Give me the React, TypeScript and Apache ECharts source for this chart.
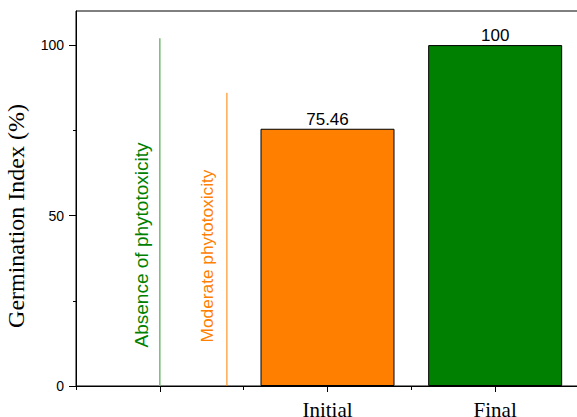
import React, { useEffect, useRef } from "react";
import * as echarts from "echarts";

const categories = ["", "Initial", "Final"];
const giValues: (number | null)[] = [null, 75.46, 100];
const barColors = ["#FF8000", "#FF8000", "#008000"];
const yTickValues = [0, 50, 100];
const yMinorTickValues = [25, 75];
const thresholdLabels = ["Absence of phytotoxicity", "Moderate phytotoxicity"];
const thresholdX = [0, 0.4];
const thresholdTop = [102, 86];
const thresholdLineColors = ["#74bb74", "#FF8000"];
const thresholdTextColors = ["#008000", "#FF8000"];

const SANS = "'Liberation Sans', Arial, sans-serif";
const SERIF = "'Liberation Serif', 'Times New Roman', serif";

export default function App() {
  const ref = useRef<HTMLDivElement>(null);
  useEffect(() => {
    if (!ref.current) return;
    const chart = echarts.init(ref.current, null, { renderer: "svg" });
    const textPos = [
      { x: 141, y: 245, size: 19 },
      { x: 207, y: 256, size: 17.3 },
    ];
    const option: any = {
      animation: false,
      backgroundColor: "#fff",
      grid: {
        left: 76,
        right: -2,
        top: 11,
        bottom: 31,
        show: true,
        borderColor: "#000",
        borderWidth: 1,
        containLabel: false,
        outerBoundsMode: "none",
      },
      xAxis: [
        {
          type: "category",
          data: categories,
          boundaryGap: true,
          axisLine: { show: true, onZero: false, lineStyle: { color: "#000", width: 1 } },
          axisTick: { show: true, alignWithLabel: true, length: 6, lineStyle: { color: "#000" } },
          axisLabel: { color: "#000", fontFamily: SERIF, fontSize: 21, margin: 13 },
          splitLine: { show: false },
        },
        {
          type: "category",
          data: categories,
          position: "bottom",
          boundaryGap: true,
          axisLine: { show: false, onZero: false },
          axisTick: { show: true, length: 4, lineStyle: { color: "#000" } },
          axisLabel: { show: false },
          splitLine: { show: false },
        },
        {
          type: "value",
          min: -0.5,
          max: 2.5,
          show: false,
          axisLine: { onZero: false },
        },
      ],
      yAxis: [
        {
          type: "value",
          position: "left",
          min: 0,
          max: 110,
          interval: 50,
          axisLine: { show: true, onZero: false, lineStyle: { color: "#000", width: 1 } },
          axisTick: { show: true, length: 7, customValues: yTickValues, lineStyle: { color: "#000" } },
          axisLabel: {
            customValues: yTickValues,
            color: "#000",
            fontFamily: SANS,
            fontSize: 14,
            margin: 12,
            formatter: (v: number) => (yTickValues.includes(v) ? String(v) : ""),
          },
          splitLine: { show: false },
        },
        {
          type: "value",
          position: "left",
          min: 0,
          max: 110,
          axisLine: { show: false, onZero: false },
          axisTick: { show: true, length: 3, customValues: yMinorTickValues, lineStyle: { color: "#000" } },
          axisLabel: { show: false },
          splitLine: { show: false },
        },
      ],
      series: [
        {
          type: "bar",
          xAxisIndex: 0,
          yAxisIndex: 0,
          barWidth: 134,
          data: giValues.map((v, i) =>
            v == null ? "-" : { value: v, itemStyle: { color: barColors[i], borderColor: "#000", borderWidth: 1 } }
          ),
          label: {
            show: true,
            position: "top",
            distance: 1,
            color: "#000",
            fontFamily: SANS,
            fontSize: 17,
          },
        },
        ...thresholdX.map((x, i) => ({
          type: "line",
          xAxisIndex: 2,
          yAxisIndex: 0,
          symbol: "none",
          silent: true,
          lineStyle: { color: thresholdLineColors[i], width: i === 0 ? 1.5 : 1 },
          data: [
            [x, 0],
            [x, thresholdTop[i]],
          ],
        })),
      ],
      graphic: [
        {
          type: "text",
          x: 16,
          y: 216,
          rotation: Math.PI / 2,
          style: {
            text: "Germination Index (%)",
            fontFamily: SERIF,
            fontSize: 24,
            fill: "#000",
            align: "center",
            verticalAlign: "middle",
          },
        },
        ...thresholdLabels.map((t, i) => ({
          type: "text",
          x: textPos[i].x,
          y: textPos[i].y,
          rotation: Math.PI / 2,
          style: {
            text: t,
            fontFamily: SANS,
            fontSize: textPos[i].size,
            fill: thresholdTextColors[i],
            align: "center",
            verticalAlign: "middle",
          },
        })),
      ],
    };
    chart.setOption(option);
    return () => chart.dispose();
  }, []);
  return (
    <div
      ref={ref}
      style={{ position: "fixed", left: 0, top: 0, width: 577, height: 417 }}
    />
  );
}
